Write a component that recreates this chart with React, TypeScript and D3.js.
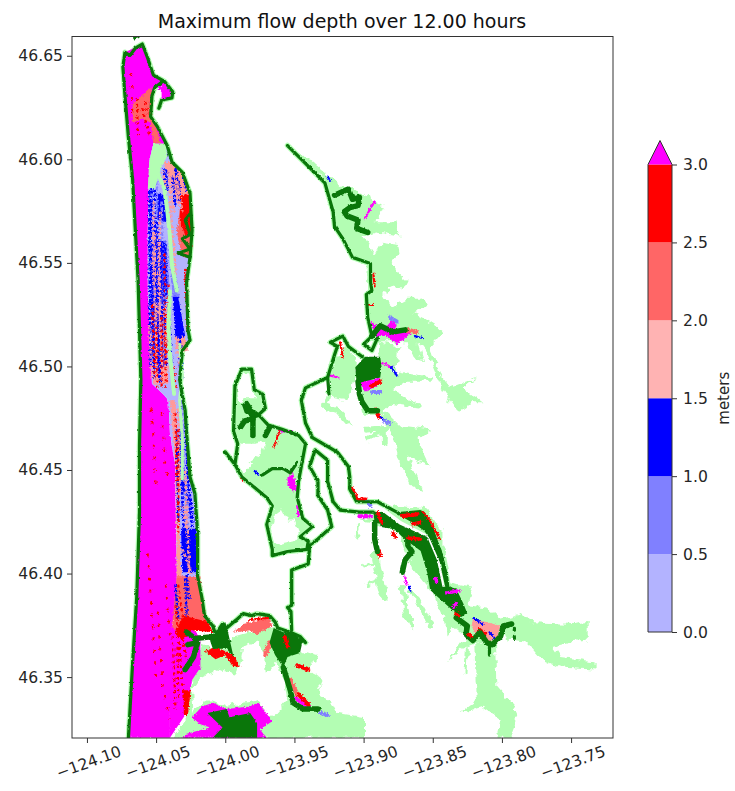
import { useEffect, useRef } from "react";
import * as d3 from "d3";

type Pt = [number, number];

const WIDTH = 735;
const HEIGHT = 791;
const FRAME = { left: 72, right: 613, top: 36.5, bottom: 738 };
const BAR = { left: 648, right: 672, top: 164.5, bottom: 632, tip: 24 };

// axis
const lonTicks = [-124.1, -124.05, -124.0, -123.95, -123.9, -123.85, -123.8, -123.75];
const latTicks = [46.35, 46.4, 46.45, 46.5, 46.55, 46.6, 46.65];
const lonRange = [-124.1108, -123.7197];
const latRange = [46.3206, 46.6593];

// colour bar
const depthLevels = [0, 0.5, 1, 1.5, 2, 2.5, 3];
const depthColors = ["#b3b3ff", "#8080ff", "#0000ff", "#ffb3b3", "#ff6666", "#ff0000"];
const overColor = "#ff00ff";
const dryFlood = "#b3fdb3";
const shoreColor = "#0a760a";
const mottled = "#ff9a9a";

// light green: land flooded but shallow
const floodNorthArm: Pt[] = [[-123.953,46.606],[-123.937,46.599],[-123.915,46.587],[-123.901,46.584],[-123.887,46.578],[-123.885,46.576],[-123.892,46.570],[-123.877,46.570],[-123.874,46.563],[-123.890,46.565],[-123.901,46.563],[-123.892,46.554],[-123.887,46.560],[-123.875,46.559],[-123.874,46.555],[-123.880,46.550],[-123.876,46.546],[-123.869,46.542],[-123.872,46.538],[-123.880,46.539],[-123.886,46.536],[-123.880,46.529],[-123.869,46.533],[-123.857,46.533],[-123.854,46.529],[-123.864,46.526],[-123.857,46.524],[-123.843,46.518],[-123.845,46.515],[-123.852,46.510],[-123.845,46.497],[-123.838,46.490],[-123.818,46.495],[-123.828,46.490],[-123.814,46.483],[-123.823,46.483],[-123.832,46.478],[-123.843,46.489],[-123.853,46.505],[-123.861,46.512],[-123.857,46.503],[-123.863,46.504],[-123.868,46.512],[-123.879,46.512],[-123.888,46.512],[-123.895,46.514],[-123.898,46.528],[-123.897,46.549],[-123.908,46.553],[-123.922,46.570],[-123.929,46.592],[-123.937,46.595],[-123.951,46.604]];
const floodPeninsula: Pt[] = [[-123.926,46.495],[-123.919,46.505],[-123.913,46.511],[-123.905,46.504],[-123.905,46.500],[-123.908,46.491],[-123.912,46.484],[-123.921,46.485],[-123.924,46.488]];
const floodBlobStem: Pt[] = [[-123.888,46.512],[-123.874,46.510],[-123.876,46.501],[-123.880,46.498],[-123.851,46.495],[-123.852,46.493],[-123.870,46.493],[-123.879,46.489],[-123.857,46.481],[-123.861,46.480],[-123.881,46.482],[-123.888,46.477],[-123.901,46.477],[-123.904,46.489],[-123.889,46.499]];
const floodMidArm: Pt[] = [[-123.885,46.479],[-123.874,46.472],[-123.852,46.470],[-123.861,46.465],[-123.852,46.452],[-123.869,46.457],[-123.857,46.440],[-123.866,46.443],[-123.874,46.454],[-123.880,46.468],[-123.888,46.476]];
const floodRiverHalo: Pt[] = [[-123.903,46.426],[-123.876,46.433],[-123.856,46.432],[-123.843,46.421],[-123.843,46.413],[-123.838,46.396],[-123.821,46.394],[-123.825,46.385],[-123.811,46.384],[-123.801,46.378],[-123.796,46.374],[-123.801,46.368],[-123.818,46.367],[-123.829,46.364],[-123.839,46.358],[-123.830,46.367],[-123.825,46.369],[-123.835,46.375],[-123.840,46.370],[-123.841,46.377],[-123.850,46.391],[-123.864,46.402],[-123.874,46.420],[-123.893,46.425]];
const floodLowerStem: Pt[] = [[-123.820,46.367],[-123.805,46.367],[-123.804,46.346],[-123.791,46.336],[-123.789,46.330],[-123.794,46.321],[-123.804,46.321],[-123.801,46.330],[-123.814,46.336],[-123.830,46.333],[-123.818,46.339],[-123.819,46.349]];
const floodEastArms: Pt[] = [[-123.801,46.378],[-123.785,46.381],[-123.780,46.377],[-123.749,46.376],[-123.738,46.377],[-123.738,46.368],[-123.751,46.367],[-123.763,46.365],[-123.758,46.360],[-123.733,46.358],[-123.733,46.354],[-123.758,46.355],[-123.773,46.360],[-123.782,46.367],[-123.796,46.368]];
const floodSouth: Pt[] = [[-124.024,46.352],[-124.017,46.366],[-124.009,46.364],[-123.997,46.367],[-123.994,46.370],[-123.966,46.375],[-123.958,46.368],[-123.944,46.362],[-123.934,46.360],[-123.939,46.354],[-123.929,46.349],[-123.933,46.343],[-123.922,46.337],[-123.919,46.333],[-123.899,46.331],[-123.899,46.321],[-124.038,46.321],[-124.028,46.330]];
const fingersWide: Pt[][] = [
  [[-123.892,46.409],[-123.888,46.397],[-123.885,46.389]],
];
const fingersMid: Pt[][] = [
  [[-123.928,46.481],[-123.919,46.479],[-123.911,46.473]],
  [[-123.925,46.488],[-123.928,46.481]],
  [[-123.898,46.470],[-123.883,46.471],[-123.897,46.465]],
  [[-123.885,46.470],[-123.885,46.464]],
  [[-123.872,46.394],[-123.869,46.381],[-123.865,46.375]],
  [[-123.866,46.391],[-123.861,46.388],[-123.857,46.383],[-123.851,46.375]],
];
const fingersThin: Pt[][] = [
  [[-123.900,46.404],[-123.892,46.405]],
  [[-123.897,46.395],[-123.888,46.397]],
  [[-123.903,46.423],[-123.905,46.418]],
  [[-123.825,46.364],[-123.826,46.352]],
];

// white holes in the flooded land
const dryIsland: Pt[][] = [
  [[-123.988,46.497],[-123.982,46.497],[-123.981,46.490],[-123.977,46.485],[-123.986,46.485],[-123.989,46.483],[-123.992,46.487],[-123.991,46.492]],
  [[-123.991,46.463],[-123.979,46.463],[-123.971,46.464],[-123.973,46.459],[-123.984,46.454],[-123.979,46.453],[-123.986,46.449],[-123.991,46.451],[-123.992,46.458]],
  [[-123.965,46.428],[-123.959,46.431],[-123.955,46.426],[-123.949,46.426],[-123.946,46.420],[-123.951,46.416],[-123.959,46.415],[-123.964,46.414],[-123.967,46.422]],
];
const drySouth: Pt[] = [[-124.018,46.350],[-124.006,46.354],[-123.992,46.352],[-123.989,46.357],[-123.987,46.365],[-123.977,46.368],[-123.971,46.360],[-123.970,46.352],[-123.963,46.357],[-123.958,46.349],[-123.955,46.339],[-123.963,46.333],[-123.968,46.331],[-123.977,46.339],[-123.987,46.338],[-123.999,46.336],[-124.009,46.339],[-124.017,46.339],[-124.023,46.333],[-124.024,46.344]];
const riverChannel: Pt[] = [[-123.886,46.431],[-123.874,46.425],[-123.854,46.418],[-123.847,46.408],[-123.843,46.394]];

// the beach spit
const spitOver: Pt[] = [[-124.0725,46.652],[-124.060,46.656],[-124.056,46.649],[-124.052,46.641],[-124.044,46.638],[-124.039,46.633],[-124.040,46.630],[-124.046,46.630],[-124.046,46.636],[-124.051,46.635],[-124.053,46.631],[-124.054,46.621],[-124.049,46.616],[-124.043,46.607],[-124.052,46.608],[-124.055,46.599],[-124.056,46.566],[-124.056,46.537],[-124.054,46.513],[-124.053,46.492],[-124.045,46.487],[-124.041,46.484],[-124.040,46.468],[-124.036,46.452],[-124.036,46.436],[-124.035,46.404],[-124.035,46.388],[-124.0385,46.375],[-124.038,46.359],[-124.040,46.333],[-124.040,46.321],[-124.070,46.321],[-124.067,46.357],[-124.064,46.389],[-124.062,46.430],[-124.062,46.462],[-124.061,46.494],[-124.063,46.542],[-124.065,46.566],[-124.067,46.591],[-124.070,46.611],[-124.0725,46.631],[-124.074,46.645]];
const spitOverEast: Pt[] = [[-124.040,46.376],[-124.024,46.374],[-124.018,46.370],[-124.018,46.355],[-124.024,46.349],[-124.028,46.333],[-124.040,46.321],[-124.040,46.349]];
const spitMix: Pt[] = [[-124.052,46.608],[-124.042,46.607],[-124.0385,46.599],[-124.031,46.594],[-124.0255,46.584],[-124.024,46.566],[-124.0255,46.553],[-124.028,46.541],[-124.027,46.518],[-124.0255,46.513],[-124.031,46.508],[-124.033,46.494],[-124.031,46.486],[-124.029,46.479],[-124.028,46.468],[-124.0255,46.447],[-124.022,46.439],[-124.020,46.420],[-124.020,46.399],[-124.017,46.389],[-124.035,46.389],[-124.035,46.404],[-124.036,46.452],[-124.040,46.468],[-124.041,46.484],[-124.045,46.487],[-124.053,46.492],[-124.054,46.513],[-124.056,46.537],[-124.056,46.566],[-124.055,46.599]];
const spitLightBlue: Pt[][] = [
  [[-124.054,46.561],[-124.042,46.561],[-124.040,46.533],[-124.054,46.533]],
  [[-124.039,46.543],[-124.035,46.543],[-124.033,46.534],[-124.038,46.534]],
];
const spitBlue: Pt[][] = [
  [[-124.049,46.584],[-124.044,46.583],[-124.042,46.570],[-124.049,46.571]],
  [[-124.038,46.534],[-124.034,46.534],[-124.029,46.515],[-124.036,46.514]],
  [[-124.032,46.422],[-124.021,46.422],[-124.020,46.401],[-124.031,46.401]],
];
const spitSalmon: Pt[][] = [
  [[-124.045,46.599],[-124.0385,46.599],[-124.031,46.594],[-124.0255,46.584],[-124.028,46.581],[-124.034,46.578],[-124.040,46.591]],
  [[-124.054,46.533],[-124.044,46.528],[-124.041,46.492],[-124.052,46.492]],
  [[-124.036,46.514],[-124.029,46.515],[-124.027,46.508],[-124.033,46.507]],
  [[-124.036,46.452],[-124.033,46.452],[-124.033,46.420],[-124.031,46.389],[-124.035,46.389],[-124.035,46.404]],
  [[-124.040,46.484],[-124.036,46.484],[-124.034,46.452],[-124.036,46.452]],
];
const spitCoral: Pt[][] = [
  [[-124.056,46.634],[-124.053,46.635],[-124.054,46.627],[-124.053,46.620],[-124.049,46.614],[-124.047,46.608],[-124.052,46.608],[-124.054,46.618],[-124.060,46.620],[-124.067,46.618],[-124.067,46.627],[-124.060,46.631]],
  [[-124.033,46.576],[-124.0255,46.584],[-124.024,46.557],[-124.0255,46.553],[-124.031,46.553],[-124.035,46.565]],
  [[-124.035,46.399],[-124.018,46.399],[-124.016,46.385],[-124.012,46.375],[-124.036,46.373],[-124.0385,46.375]],
  [[-123.994,46.372],[-123.987,46.376],[-123.968,46.379],[-123.966,46.375],[-123.977,46.371],[-123.982,46.373],[-123.992,46.372]],
];
const spitRed: Pt[][] = [
  [[-124.032,46.583],[-124.0255,46.584],[-124.024,46.566],[-124.028,46.562],[-124.033,46.571]],
  [[-124.030,46.380],[-124.012,46.377],[-124.009,46.372],[-124.024,46.373],[-124.031,46.368],[-124.0365,46.372]],
  [[-124.030,46.344],[-124.025,46.344],[-124.027,46.332],[-124.030,46.332]],
  [[-124.015,46.363],[-124.007,46.365],[-123.994,46.361],[-123.989,46.355],[-123.995,46.356],[-124.000,46.361],[-124.007,46.359]],
  [[-123.908,46.443],[-123.904,46.437],[-123.897,46.437],[-123.900,46.434],[-123.906,46.436],[-123.910,46.441]],
];
const lightStrips: Pt[][] = [
  [[-124.049,46.594],[-124.044,46.586],[-124.042,46.576],[-124.040,46.563],[-124.0385,46.549],[-124.035,46.537]],
  [[-124.040,46.537],[-124.041,46.520],[-124.040,46.506],[-124.037,46.487]],
];
const lightStripsThin: Pt[][] = [
  [[-124.033,46.511],[-124.031,46.496],[-124.033,46.484],[-124.031,46.465],[-124.031,46.446]],
];
const spitGreenTop: Pt[] = [[-124.052,46.608],[-124.043,46.608],[-124.042,46.602],[-124.047,46.595],[-124.051,46.586],[-124.056,46.586],[-124.055,46.599]];

// dashed runs that stand in for the speckled raster cells
const speckBlue: Pt[][] = [
  [[-124.053,46.594],[-124.054,46.562],[-124.053,46.533],[-124.051,46.494]],
  [[-124.051,46.586],[-124.050,46.533],[-124.048,46.497]],
  [[-124.045,46.561],[-124.044,46.533],[-124.043,46.500]],
  [[-124.038,46.592],[-124.036,46.578]],
  [[-124.033,46.590],[-124.033,46.580]],
  [[-124.047,46.561],[-124.047,46.533]],
  [[-124.033,46.515],[-124.031,46.492]],
  [[-124.029,46.478],[-124.027,46.445],[-124.023,46.425]],
  [[-124.032,46.455],[-124.030,46.420]],
  [[-124.026,46.437],[-124.022,46.405]],
  [[-124.029,46.398],[-124.028,46.380]],
  [[-124.035,46.470],[-124.034,46.425]],
  [[-124.036,46.395],[-124.034,46.378]],
  [[-124.055,46.585],[-124.0545,46.540],[-124.054,46.500]],
  [[-124.049,46.570],[-124.049,46.530],[-124.047,46.492]],
  [[-124.042,46.595],[-124.042,46.585]],
  [[-124.044,46.596],[-124.043,46.585]],
  [[-124.036,46.596],[-124.034,46.585]],
  [[-124.030,46.592],[-124.028,46.585]],
  [[-124.0525,46.560],[-124.0515,46.500]],
  [[-124.0465,46.560],[-124.0455,46.500]],
  [[-124.0435,46.560],[-124.0425,46.535]],
  [[-124.041,46.530],[-124.039,46.500]],
  [[-124.034,46.505],[-124.033,46.500]],
  [[-124.028,46.465],[-124.026,46.440]],
  [[-124.033,46.470],[-124.030,46.440]],
  [[-124.030,46.445],[-124.025,46.430]],
  [[-124.028,46.400],[-124.026,46.388]],
];
const speckPale: Pt[][] = [
  [[-124.050,46.590],[-124.049,46.575]],
  [[-124.053,46.590],[-124.053,46.560]],
  [[-124.046,46.580],[-124.0455,46.562]],
  [[-124.040,46.560],[-124.038,46.540]],
  [[-124.032,46.490],[-124.030,46.450]],
  [[-124.029,46.440],[-124.027,46.420]],
];
const speckSalmon: Pt[][] = [
  [[-124.052,46.580],[-124.052,46.540]],
  [[-124.047,46.575],[-124.048,46.540],[-124.046,46.500]],
  [[-124.041,46.595],[-124.038,46.560]],
  [[-124.040,46.590],[-124.037,46.575]],
  [[-124.050,46.530],[-124.050,46.495]],
  [[-124.035,46.590],[-124.031,46.575]],
  [[-124.037,46.560],[-124.036,46.545]],
  [[-124.029,46.450],[-124.026,46.400]],
  [[-124.031,46.412],[-124.024,46.400]],
  [[-124.055,46.520],[-124.053,46.495]],
  [[-124.045,46.595],[-124.043,46.585]],
  [[-124.048,46.560],[-124.047,46.530]],
  [[-124.051,46.565],[-124.051,46.530]],
  [[-124.043,46.530],[-124.0425,46.495]],
  [[-124.036,46.515],[-124.033,46.500]],
  [[-124.034,46.480],[-124.033,46.440]],
  [[-124.030,46.433],[-124.028,46.422]],
];
const speckRed: Pt[][] = [
  [[-124.053,46.530],[-124.051,46.495]],
  [[-124.046,46.524],[-124.046,46.490]],
  [[-124.041,46.540],[-124.042,46.505]],
  [[-124.036,46.478],[-124.035,46.445]],
  [[-124.034,46.395],[-124.030,46.376]],
  [[-124.060,46.625],[-124.055,46.612]],
  [[-124.064,46.630],[-124.063,46.612]],
  [[-124.050,46.520],[-124.049,46.490]],
  [[-124.044,46.555],[-124.043,46.490]],
  [[-124.037,46.500],[-124.036,46.490]],
  [[-124.034,46.470],[-124.034,46.420]],
  [[-124.036,46.385],[-124.030,46.340]],
  [[-124.058,46.628],[-124.056,46.622]],
  [[-124.032,46.375],[-124.0285,46.360]],
  [[-124.0345,46.365],[-124.034,46.340]],
  [[-124.038,46.370],[-124.036,46.335]],
];
const speckInOcean: Pt[][] = [
  [[-124.054,46.480],[-124.053,46.470]],
  [[-124.046,46.478],[-124.043,46.450],[-124.040,46.445]],
  [[-124.049,46.382],[-124.045,46.345],[-124.040,46.330]],
  [[-124.056,46.410],[-124.050,46.350]],
  [[-124.043,46.395],[-124.040,46.370]],
  [[-124.068,46.642],[-124.067,46.620]],
  [[-124.053,46.480],[-124.050,46.440]],
];

// coloured traces along channels
const overBlobs: Pt[][] = [
  [[-123.955,46.447],[-123.951,46.449],[-123.948,46.441],[-123.951,46.440],[-123.955,46.443]],
  [[-123.895,46.522],[-123.890,46.520],[-123.883,46.520],[-123.879,46.523],[-123.876,46.520],[-123.879,46.517],[-123.868,46.518],[-123.865,46.517],[-123.870,46.514],[-123.876,46.511],[-123.883,46.515],[-123.892,46.515]],
  [[-123.903,46.493],[-123.888,46.495],[-123.890,46.491],[-123.899,46.488]],
  [[-124.024,46.331],[-124.017,46.336],[-124.009,46.338],[-123.999,46.335],[-123.984,46.336],[-123.976,46.338],[-123.966,46.329],[-123.975,46.325],[-123.970,46.321],[-124.031,46.321],[-124.028,46.323],[-124.011,46.326],[-124.020,46.328]],
];
const traceOverThin: Pt[][] = [
  [[-123.899,46.572],[-123.892,46.580]],
  [[-123.925,46.496],[-123.918,46.495]],
  [[-123.961,46.469],[-123.952,46.469]],
  [[-123.948,46.433],[-123.947,46.428]],
  [[-123.870,46.399],[-123.869,46.395]],
  [[-123.898,46.504],[-123.886,46.502],[-123.880,46.500]],
];
const traceOverWide: Pt[][] = [
  [[-123.903,46.428],[-123.895,46.428]],
  [[-123.949,46.340],[-123.940,46.336]],
  [[-124.047,46.635],[-124.041,46.632]],
];
const traceRedThin: Pt[][] = [
  [[-123.893,46.545],[-123.892,46.539]],
  [[-123.896,46.530],[-123.893,46.530]],
  [[-123.917,46.512],[-123.915,46.505]],
  [[-123.965,46.461],[-123.961,46.469]],
  [[-124.029,46.547],[-124.027,46.518]],
  [[-123.982,46.378],[-123.968,46.379]],
  [[-123.988,46.447],[-123.987,46.445]],
];
const traceRedWide: Pt[][] = [
  [[-123.889,46.411],[-123.888,46.409]],
  [[-123.948,46.356],[-123.940,46.354]],
  [[-123.894,46.491],[-123.888,46.493]],
  [[-123.891,46.479],[-123.889,46.476]],
  [[-123.947,46.342],[-123.940,46.337]],
  [[-123.816,46.373],[-123.812,46.371]],
];
const traceCoralWide: Pt[][] = [
  [[-123.869,46.518],[-123.862,46.517]],
  [[-123.968,46.367],[-123.971,46.361]],
  [[-123.953,46.349],[-123.948,46.342]],
];
const traceBlueThin: Pt[][] = [
  [[-123.926,46.592],[-123.924,46.590]],
  [[-123.863,46.515],[-123.857,46.514]],
  [[-123.880,46.500],[-123.876,46.496]],
  [[-123.888,46.476],[-123.885,46.474]],
  [[-123.821,46.379],[-123.814,46.376]],
  [[-123.809,46.372],[-123.804,46.368]],
  [[-123.979,46.450],[-123.976,46.448]],
  [[-123.867,46.394],[-123.866,46.392]],
];
const tracePaleWide: Pt[][] = [
  [[-123.881,46.524],[-123.876,46.522]],
  [[-123.894,46.488],[-123.888,46.488]],
  [[-123.885,46.474],[-123.881,46.473]],
  [[-123.931,46.333],[-123.926,46.332]],
  [[-123.897,46.435],[-123.895,46.433]],
];
const riverCoralPatch: Pt[] = [[-123.821,46.378],[-123.811,46.377],[-123.801,46.375],[-123.803,46.369],[-123.811,46.367],[-123.814,46.371],[-123.818,46.370],[-123.822,46.375]];

// dark green: shoreline contour and channels
const shoreWest: Pt[] = [[-124.070,46.321],[-124.067,46.357],[-124.064,46.389],[-124.062,46.430],[-124.062,46.462],[-124.061,46.494],[-124.063,46.542],[-124.065,46.566],[-124.067,46.591],[-124.070,46.611],[-124.0725,46.631],[-124.074,46.645],[-124.0725,46.652],[-124.069,46.6505],[-124.065,46.654],[-124.060,46.656],[-124.056,46.649],[-124.052,46.641],[-124.044,46.638],[-124.038,46.633],[-124.0385,46.630],[-124.046,46.629],[-124.048,46.625]];
const shoreEast: Pt[] = [[-124.045,46.638],[-124.051,46.635],[-124.053,46.631],[-124.054,46.621],[-124.049,46.616],[-124.042,46.607],[-124.0385,46.599],[-124.031,46.594],[-124.0255,46.584],[-124.024,46.566],[-124.0255,46.553],[-124.028,46.541],[-124.027,46.518],[-124.0255,46.513],[-124.031,46.508],[-124.033,46.494],[-124.031,46.486],[-124.029,46.479],[-124.028,46.468],[-124.0255,46.447],[-124.022,46.439],[-124.020,46.420],[-124.020,46.399],[-124.017,46.389],[-124.015,46.380],[-124.009,46.375],[-124.007,46.371],[-124.002,46.376],[-123.999,46.374],[-123.992,46.378],[-123.987,46.381],[-123.981,46.380],[-123.977,46.381],[-123.968,46.380],[-123.964,46.377],[-123.962,46.374],[-123.953,46.372],[-123.946,46.370],[-123.942,46.367]];
const shoreBay: Pt[] = [[-123.952,46.373],[-123.9525,46.382],[-123.955,46.384],[-123.952,46.385],[-123.952,46.402],[-123.940,46.405],[-123.939,46.414],[-123.933,46.417],[-123.923,46.423],[-123.926,46.431],[-123.933,46.438],[-123.933,46.445],[-123.939,46.452],[-123.935,46.460],[-123.926,46.455],[-123.926,46.445],[-123.922,46.435],[-123.917,46.431],[-123.903,46.430],[-123.893,46.430]];
const shoreNorthBay: Pt[] = [[-123.839,46.393],[-123.840,46.399],[-123.845,46.412],[-123.857,46.423],[-123.876,46.430],[-123.890,46.435],[-123.905,46.435],[-123.910,46.441],[-123.910,46.447],[-123.911,46.452],[-123.919,46.459],[-123.937,46.466],[-123.942,46.473],[-123.945,46.484],[-123.942,46.490],[-123.926,46.495],[-123.921,46.506],[-123.919,46.510],[-123.924,46.512],[-123.915,46.515],[-123.911,46.510],[-123.901,46.505]];
const shoreNorthArm: Pt[] = [[-123.955,46.607],[-123.946,46.601],[-123.937,46.595],[-123.928,46.589],[-123.922,46.575],[-123.921,46.568],[-123.915,46.562],[-123.908,46.553],[-123.895,46.550],[-123.895,46.541],[-123.894,46.537],[-123.898,46.535],[-123.897,46.524],[-123.894,46.515],[-123.900,46.511],[-123.894,46.508],[-123.890,46.514]];
const shoreIsland: Pt[] = [[-124.000,46.459],[-123.993,46.453],[-123.988,46.447],[-123.970,46.437],[-123.966,46.433],[-123.970,46.424],[-123.966,46.412],[-123.966,46.409],[-123.955,46.411],[-123.941,46.412],[-123.940,46.416],[-123.946,46.418],[-123.937,46.423],[-123.944,46.427],[-123.948,46.437],[-123.947,46.445],[-123.942,46.463],[-123.947,46.467],[-123.959,46.470],[-123.969,46.472],[-123.976,46.477],[-123.971,46.480],[-123.973,46.487],[-123.979,46.489],[-123.981,46.499],[-123.988,46.499],[-123.993,46.491],[-123.994,46.469],[-123.991,46.463],[-123.993,46.453]];
const shoreStubs: Pt[][] = [
  [[-124.0655,46.659],[-124.063,46.6595]],
  [[-123.926,46.495],[-123.925,46.487]],
  [[-123.973,46.448],[-123.966,46.451],[-123.958,46.451],[-123.953,46.449],[-123.948,46.454]],
  [[-124.0255,46.574],[-124.029,46.571],[-124.0255,46.564],[-124.031,46.562],[-124.0255,46.557],[-124.034,46.555],[-124.0255,46.553]],
  [[-123.791,46.374],[-123.791,46.373]],
  [[-123.791,46.370],[-123.791,46.369]],
  [[-123.809,46.367],[-123.809,46.361]],
];
const channelsWide: Pt[][] = [
  [[-123.921,46.583],[-123.911,46.586],[-123.908,46.581],[-123.903,46.582],[-123.904,46.578],[-123.910,46.577],[-123.914,46.575],[-123.912,46.573],[-123.904,46.571],[-123.905,46.567],[-123.897,46.565]],
  [[-123.894,46.515],[-123.888,46.520],[-123.879,46.517],[-123.870,46.518]],
  [[-123.904,46.493],[-123.903,46.487],[-123.901,46.483],[-123.897,46.479],[-123.890,46.479]],
  [[-123.892,46.425],[-123.892,46.417],[-123.890,46.411]],
  [[-123.868,46.418],[-123.868,46.414],[-123.865,46.411],[-123.870,46.407],[-123.872,46.401]],
  [[-123.886,46.424],[-123.877,46.423],[-123.869,46.418],[-123.857,46.412],[-123.852,46.401],[-123.850,46.393],[-123.845,46.390],[-123.835,46.384]],
  [[-123.833,46.379],[-123.825,46.375],[-123.826,46.371],[-123.821,46.368],[-123.816,46.372],[-123.811,46.367],[-123.807,46.366],[-123.801,46.370],[-123.799,46.375],[-123.793,46.376]],
  [[-123.958,46.355],[-123.953,46.344],[-123.951,46.338],[-123.944,46.335],[-123.933,46.335]],
  [[-123.980,46.475],[-123.980,46.467]],
  [[-123.980,46.475],[-123.986,46.474],[-123.989,46.471]],
  [[-123.971,46.467],[-123.968,46.471]],
  [[-124.028,46.372],[-124.022,46.369],[-124.007,46.370]],
  [[-124.027,46.366],[-124.020,46.367],[-124.023,46.360],[-124.029,46.354]],
];
const darkBlobs: Pt[][] = [
  [[-123.906,46.500],[-123.899,46.505],[-123.888,46.505],[-123.887,46.500],[-123.888,46.495],[-123.900,46.493],[-123.905,46.492]],
  [[-123.988,46.482],[-123.984,46.484],[-123.980,46.480],[-123.976,46.478],[-123.975,46.476],[-123.980,46.475],[-123.986,46.478]],
  [[-123.875,46.430],[-123.859,46.431],[-123.856,46.430],[-123.850,46.423],[-123.843,46.410],[-123.839,46.399],[-123.839,46.393],[-123.841,46.394],[-123.845,46.406],[-123.854,46.420],[-123.876,46.430]],
  [[-123.893,46.430],[-123.886,46.430],[-123.874,46.424],[-123.854,46.418],[-123.847,46.407],[-123.843,46.394],[-123.838,46.394],[-123.833,46.393],[-123.828,46.386],[-123.825,46.381],[-123.833,46.378],[-123.835,46.384],[-123.845,46.390],[-123.850,46.393],[-123.852,46.401],[-123.857,46.412],[-123.869,46.418],[-123.877,46.423],[-123.886,46.424],[-123.892,46.425]],
  [[-124.011,46.368],[-124.000,46.377],[-123.998,46.372],[-123.994,46.360],[-123.999,46.364],[-124.009,46.364]],
  [[-123.968,46.367],[-123.965,46.374],[-123.958,46.372],[-123.952,46.372],[-123.944,46.368],[-123.946,46.362],[-123.955,46.360],[-123.958,46.355],[-123.964,46.361]],
  [[-124.013,46.333],[-123.999,46.335],[-123.997,46.331],[-123.982,46.333],[-123.977,46.328],[-123.977,46.321],[-124.009,46.321],[-124.002,46.326]],
];

// patches that sit on top of the dark channels
const onDarkRed: Pt[][] = [
  [[-123.874,46.429],[-123.859,46.430],[-123.861,46.428],[-123.872,46.427]],
  [[-123.866,46.425],[-123.858,46.426],[-123.859,46.424],[-123.865,46.423]],
];
const onDarkRedLines: Pt[][] = [
  [[-123.890,46.430],[-123.887,46.425]],
  [[-123.868,46.4175],[-123.859,46.417]],
  [[-123.957,46.370],[-123.955,46.365]],
  [[-123.833,46.381],[-123.831,46.380]],
  [[-123.824,46.371],[-123.822,46.370]],
  [[-123.879,46.420],[-123.877,46.418]],
];
const onDarkRim: Pt[][] = [
  [[-123.857,46.430],[-123.852,46.426],[-123.845,46.417]],
];
const onDarkOver: Pt[][] = [
  [[-123.840,46.391],[-123.831,46.392]],
  [[-123.848,46.398],[-123.847,46.396]],
  [[-123.835,46.384],[-123.833,46.386]],
];

const xScale = d3.scaleLinear().domain(lonRange).range([FRAME.left, FRAME.right]);
const yScale = d3.scaleLinear().domain(latRange).range([FRAME.bottom, FRAME.top]);
const barScale = d3.scaleLinear().domain([0, 3]).range([BAR.bottom, BAR.top]);
const toPath = d3.line<Pt>().x((d) => xScale(d[0])).y((d) => yScale(d[1]));
const ring = (pts: Pt[]) => toPath(pts) + "Z";

const Fill = ({ rings, color }: { rings: Pt[][]; color: string }) => (
  <>
    {rings.map((r, i) => (
      <path key={i} d={ring(r)} fill={color} />
    ))}
  </>
);

const Lines = ({ lines, color, width, dash }: { lines: Pt[][]; color: string; width: number; dash?: string }) => (
  <>
    {lines.map((l, i) => (
      <path
        key={i}
        d={toPath(l) ?? ""}
        fill="none"
        stroke={color}
        strokeWidth={width}
        strokeDasharray={dash}
        strokeLinejoin="round"
        strokeLinecap={dash ? "butt" : "round"}
      />
    ))}
  </>
);

// the source is a raster: roughen the vector edges so they read as grid cells
const Rough = ({ id, freq, scale, blur }: { id: string; freq: number; scale: number; blur: number }) => (
  <filter id={id} filterUnits="userSpaceOnUse" x={0} y={0} width={WIDTH} height={HEIGHT} colorInterpolationFilters="sRGB">
    <feTurbulence type="fractalNoise" baseFrequency={freq} numOctaves={2} seed={4} result="n" />
    <feDisplacementMap in="SourceGraphic" in2="n" scale={scale} xChannelSelector="R" yChannelSelector="G" result="d" />
    <feGaussianBlur in="d" stdDeviation={blur} />
  </filter>
);

export default function App() {
  const axesRef = useRef<SVGGElement>(null);

  // Render the axes with d3, not react
  useEffect(() => {
    const svg = d3.select(axesRef.current);
    svg.selectAll("*").remove();

    const bottom = svg
      .append("g")
      .attr("transform", `translate(0,${FRAME.bottom})`)
      .call(d3.axisBottom(xScale).tickValues(lonTicks).tickFormat(d3.format(".2f") as any).tickSize(5).tickPadding(4));
    bottom.selectAll("text").attr("transform", "rotate(-20)").attr("dy", "1.25em").attr("dx", "-0.45em");

    svg
      .append("g")
      .attr("transform", `translate(${FRAME.left},0)`)
      .call(d3.axisLeft(yScale).tickValues(latTicks).tickFormat(d3.format(".2f") as any).tickSize(5).tickPadding(4));

    svg
      .append("g")
      .attr("transform", `translate(${BAR.right},0)`)
      .call(d3.axisRight(barScale).tickValues(depthLevels).tickFormat(d3.format(".1f") as any).tickSize(5).tickPadding(6));

    svg.selectAll(".domain").remove();
    svg.selectAll("text").attr("font-family", "DejaVu Sans").attr("font-size", 15.6).attr("fill", "#262626");
    svg.selectAll("line").attr("stroke", "#333").attr("stroke-width", 1);
  }, []);

  const tipX = (BAR.left + BAR.right) / 2;
  const tipPath = `M${BAR.left},${BAR.top}L${tipX},${BAR.top - BAR.tip}L${BAR.right},${BAR.top}Z`;

  return (
    <svg width={WIDTH} height={HEIGHT} style={{ position: "absolute", left: 0, top: 0 }}>
      <defs>
        <clipPath id="frame">
          <rect x={FRAME.left} y={FRAME.top} width={FRAME.right - FRAME.left} height={FRAME.bottom - FRAME.top} />
        </clipPath>
        <Rough id="land" freq={0.14} scale={9} blur={0.4} />
        <Rough id="cells" freq={0.6} scale={4} blur={0.3} />
        <Rough id="shore" freq={0.3} scale={2.5} blur={0.35} />
      </defs>
      <text x={342} y={27.5} textAnchor="middle" fontFamily="DejaVu Sans" fontSize={19} fill="#111">
        Maximum flow depth over 12.00 hours
      </text>

      <g clipPath="url(#frame)">
        <g transform="translate(0,0.7)">
          <g filter="url(#land)">
            <Fill
              rings={[floodNorthArm, floodPeninsula, floodBlobStem, floodMidArm, floodRiverHalo, floodLowerStem, floodEastArms, floodSouth, shoreIsland.slice(1)]}
              color={dryFlood}
            />
            <Lines lines={fingersWide} color={dryFlood} width={8} />
            <Lines lines={fingersMid} color={dryFlood} width={5} />
            <Lines lines={fingersThin} color={dryFlood} width={3} />
            <Fill rings={[...dryIsland, drySouth]} color="#fff" />
          </g>
          <Lines
            lines={[shoreWest, shoreEast, shoreBay, shoreNorthBay, shoreNorthArm, shoreIsland]}
            color={dryFlood}
            width={5.5}
          />
          <Lines lines={[riverChannel]} color="#fff" width={4} />

          <g filter="url(#shore)">
            <Fill rings={[spitOver, spitOverEast]} color={overColor} />
            <Fill rings={[spitMix]} color={depthColors[0]} />
          </g>
          <g filter="url(#cells)">
            <Fill rings={spitLightBlue} color={depthColors[1]} />
            <Fill rings={spitSalmon} color={mottled} />
            <Fill rings={[riverCoralPatch]} color={mottled} />
            <Fill rings={spitCoral} color={depthColors[4]} />
            <Fill rings={spitBlue} color={depthColors[2]} />
            <Fill rings={spitRed} color={depthColors[5]} />
            <Lines lines={speckPale} color={depthColors[1]} width={2.6} dash="4 2" />
            <Lines lines={speckBlue} color={depthColors[2]} width={2.6} dash="3 1.5" />
            <Lines lines={speckSalmon} color={mottled} width={2.6} dash="3 2" />
            <Lines lines={speckRed} color={depthColors[5]} width={2.2} dash="3 3" />
            <Lines lines={speckInOcean} color={depthColors[5]} width={1.8} dash="3 9" />
          </g>
          <g filter="url(#shore)">
            <Fill rings={[spitGreenTop]} color={dryFlood} />
            <Lines lines={lightStrips} color={dryFlood} width={4} />
            <Lines lines={lightStripsThin} color={dryFlood} width={3} />
          </g>

          <g filter="url(#cells)">
            <Fill rings={overBlobs} color={overColor} />
            <Lines lines={traceOverThin} color={overColor} width={2.2} />
            <Lines lines={traceOverWide} color={overColor} width={4} />
            <Lines lines={traceCoralWide} color={depthColors[4]} width={4.5} />
            <Lines lines={traceRedThin} color={depthColors[5]} width={2.2} />
            <Lines lines={traceRedWide} color={depthColors[5]} width={4} />
            <Lines lines={traceBlueThin} color={depthColors[2]} width={2} />
            <Lines lines={tracePaleWide} color={depthColors[1]} width={4} />
          </g>

          <g filter="url(#shore)">
            <Fill rings={darkBlobs} color={shoreColor} />
            <Lines lines={channelsWide} color={shoreColor} width={5.5} />
            <Lines
              lines={[shoreWest, shoreEast, shoreBay, shoreNorthBay, shoreNorthArm, shoreIsland, ...shoreStubs]}
              color={shoreColor}
              width={3.2}
            />
          </g>

          <g filter="url(#cells)">
            <Fill rings={onDarkRed} color={depthColors[5]} />
            <Lines lines={onDarkRedLines} color={depthColors[5]} width={3.5} />
            <Lines lines={onDarkRim} color={depthColors[5]} width={2.2} />
            <Lines lines={onDarkOver} color={overColor} width={3.2} />
          </g>
        </g>
      </g>

      <rect
        x={FRAME.left}
        y={FRAME.top}
        width={FRAME.right - FRAME.left}
        height={FRAME.bottom - FRAME.top}
        fill="none"
        stroke="#333"
        strokeWidth={1}
      />

      {/* colour bar */}
      {depthColors.map((c, i) => (
        <rect
          key={c}
          x={BAR.left}
          y={barScale(depthLevels[i + 1])}
          width={BAR.right - BAR.left}
          height={barScale(depthLevels[i]) - barScale(depthLevels[i + 1])}
          fill={c}
        />
      ))}
      <path d={tipPath} fill={overColor} />
      <path
        d={`M${BAR.left},${BAR.bottom}L${BAR.left},${BAR.top}L${tipX},${BAR.top - BAR.tip}L${BAR.right},${BAR.top}L${BAR.right},${BAR.bottom}Z`}
        fill="none"
        stroke="#333"
        strokeWidth={1}
      />
      <text
        transform={`translate(729,${(BAR.top + BAR.bottom) / 2}) rotate(-90)`}
        textAnchor="middle"
        fontFamily="DejaVu Sans"
        fontSize={15}
        fill="#262626"
      >
        meters
      </text>

      <g ref={axesRef} />
    </svg>
  );
}
